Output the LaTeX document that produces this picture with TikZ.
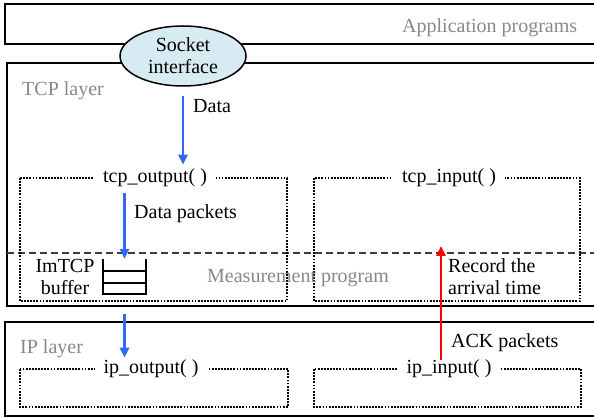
\documentclass[tikz,border=0pt]{standalone}
\usepackage{fontspec}
\setmainfont{Liberation Serif}
\usetikzlibrary{arrows.meta,shapes.geometric}
\definecolor{layergray}{RGB}{135,135,145}
\definecolor{sockfill}{RGB}{214,236,242}
\definecolor{pktblue}{RGB}{51,102,255}
\definecolor{dashgray}{RGB}{60,60,60}
\begin{document}
\begin{tikzpicture}[x=1pt,y=-1pt,
  txt/.style={font=\fontsize{20}{22}\selectfont},
  layerbox/.style={draw=black,line width=2.2pt},
  funcbox/.style={draw=black,line width=2pt,dash pattern=on 1.8pt off 1.3pt},
  funclabel/.style={txt,fill=white,inner xsep=9pt,inner ysep=0pt},
  layerlabel/.style={txt,text=layergray,anchor=base west,inner sep=0pt},
  plain/.style={txt,anchor=base west,inner sep=0pt},
  bluearrow/.style={draw=pktblue,line width=2.8pt,-{Triangle[length=10pt,width=9pt]}},
  redarrow/.style={draw=red,line width=2.8pt,-{Triangle[length=10pt,width=9pt]}},
  bufline/.style={draw=black,line width=2pt},
]
\clip (0,0) rectangle (594,419);
\fill[white] (0,0) rectangle (594,419);

% layer frames (open to the right)
\coordinate (appNW) at (5,4);
\coordinate (tcpNW) at (7,63);
\coordinate (tcpSW) at (7,306);
\coordinate (ipNW) at (5,322);
\draw[layerbox] (appNW) rectangle (600,44);
\draw[layerbox] (tcpNW) rectangle (600,306);
\draw[layerbox] (ipNW) rectangle (600,416);

% boundary of the measurement program
\coordinate (mpW) at (7,253);
\coordinate (mpE) at (600,253);
\draw[draw=dashgray,line width=2.5pt,dash pattern=on 7pt off 4pt] (mpW) -- (mpE);

% function frames
\draw[funcbox] (20,178) rectangle (287,301);
\draw[funcbox] (314,178) rectangle (580,301);
\draw[funcbox] (20,369) rectangle (288,407);
\draw[funcbox] (314,369) rectangle (581,407);

\node[funclabel] (tcpout) at (155,178) {tcp\_output( )};
\node[funclabel] (tcpin) at (449,178) {tcp\_input( )};
\node[funclabel] (ipout) at (151,369) {ip\_output( )};
\node[funclabel] (ipin) at (449,369) {ip\_input( )};

% layer names
\node[layerlabel] (applbl) at (402,33) {Application programs};
\node[layerlabel] (tcplbl) at (22,96) {TCP layer};
\node[layerlabel] (iplbl) at (20,353) {IP layer};
\node[layerlabel] (mplbl) at (207,283) {Measurement program};

% ImTCP buffer
\node[minimum width=43pt,minimum height=35pt,inner sep=0pt] (buf) at (124.5,276.5) {};
\draw[bufline] (buf.north west) -- (buf.south west) -- (buf.south east) -- (buf.north east);
\draw[bufline] ([yshift=-12pt]buf.north west) -- ([yshift=-12pt]buf.north east);
\draw[bufline] ([yshift=-24pt]buf.north west) -- ([yshift=-24pt]buf.north east);
\node[txt,align=center,anchor=base,inner sep=0pt] (buflbl) at (65,295) {ImTCP\\buffer};

% other labels
\node[plain] (datalbl) at (193,113) {Data};
\node[plain] (dplbl) at (134,219) {Data packets};
\node[plain] (acklbl) at (451,348) {ACK packets};
\node[txt,align=left,anchor=base west,inner sep=0pt] (reclbl) at (448,295) {Record the\\arrival time};

% socket interface
\node[txt,draw=black,line width=1.5pt,ellipse,fill=sockfill,minimum width=126pt,minimum height=60pt,
      inner sep=0pt,align=center] (sock) at (183,56) {Socket\\interface};

% data flow
\draw[bluearrow] ([yshift=-9pt]sock.south) -- ([yshift=4pt]sock.south |- tcpout.north);
\draw[bluearrow] ([yshift=-6pt]buf.north |- tcpout.south) -- (buf.north);
\draw[bluearrow] ([yshift=-8pt]buf.south |- tcpSW) -- ([yshift=2pt]buf.south |- ipout.north);
\draw[redarrow] ([xshift=-8pt]ipin.north) -- ([xshift=-8pt,yshift=7pt]ipin.north |- mpW);
\end{tikzpicture}
\end{document}
